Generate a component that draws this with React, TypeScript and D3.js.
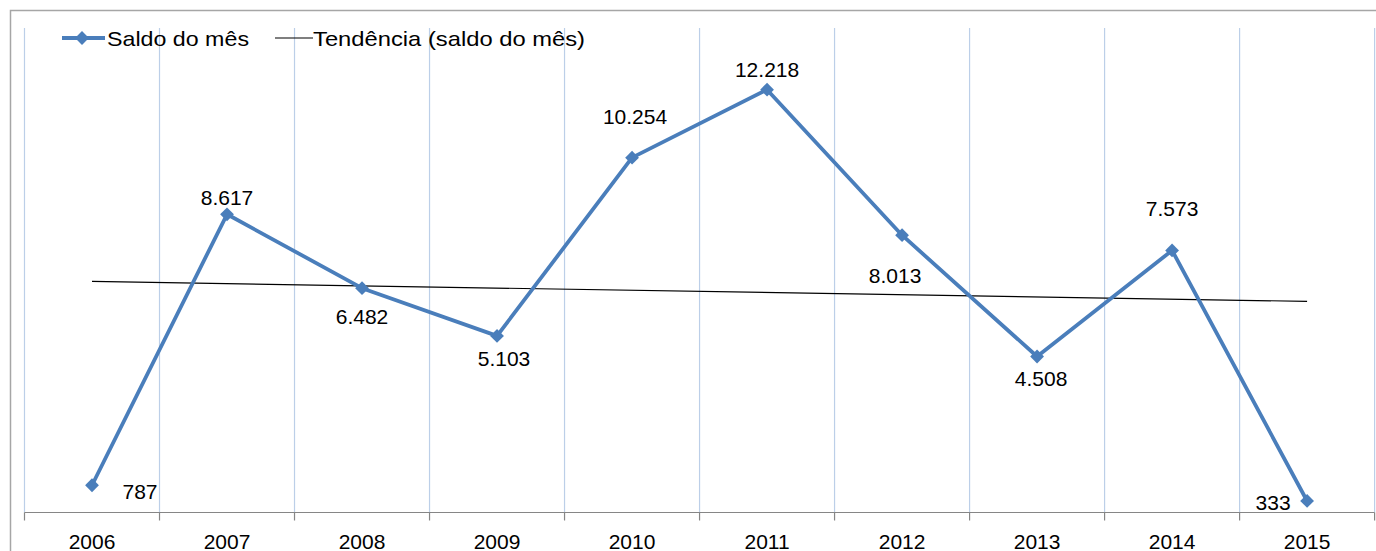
import { useEffect, useRef } from "react";
import * as d3 from "d3";

const years = ["2006", "2007", "2008", "2009", "2010", "2011", "2012", "2013", "2014", "2015"];
const saldo = [787, 8617, 6482, 5103, 10254, 12218, 8013, 4508, 7573, 333];
const legendLabels = ["Saldo do mês", "Tendência (saldo do mês)"];

// label offsets (px) from each point: [dx, dy of baseline]
const labelOffsets = [
  [48, 14], [0, -9], [0, 36], [7, 30], [3, -34],
  [0, -13], [-7, 48], [4, 30], [0, -34], [-34, 9],
];

const fmt = (v: number) => d3.format(",")(v).replace(/,/g, ".");

export default function App() {
  const ref = useRef<SVGSVGElement>(null);

  useEffect(() => {
    const width = 1376;
    const height = 551;
    const marginLeft = 24.5;
    const marginRight = 1.4;
    const marginTop = 28;
    const plotBottom = 512.5;

    const svg = d3.select(ref.current);
    svg.selectAll("*").remove();
    svg.attr("width", width).attr("height", height);

    const font = "'Liberation Sans', Arial, sans-serif";

    // outer chart border
    svg
      .append("path")
      .attr("d", `M10.5,${height + 5}V10.5H${width + 5}`)
      .attr("fill", "none")
      .attr("stroke", "#a6a6a6")
      .attr("stroke-width", 1.5);

    const x = d3
      .scaleBand()
      .domain(years)
      .range([marginLeft, width - marginRight]);

    const y = d3.scaleLinear().domain([0, 14000]).range([plotBottom, marginTop]);

    // vertical gridlines at category boundaries
    const bounds = d3.range(years.length + 1).map((i) => marginLeft + i * x.step());
    svg
      .append("g")
      .selectAll("line")
      .data(bounds)
      .join("line")
      .attr("x1", (d) => d)
      .attr("x2", (d) => d)
      .attr("y1", marginTop)
      .attr("y2", plotBottom)
      .attr("stroke", "#bccfe8")
      .attr("stroke-width", 1.2);

    // horizontal axis
    const axis = svg.append("g");
    axis
      .append("line")
      .attr("x1", marginLeft)
      .attr("x2", width - marginRight)
      .attr("y1", plotBottom)
      .attr("y2", plotBottom)
      .attr("stroke", "#868686")
      .attr("stroke-width", 1.2);
    axis
      .selectAll(".tk")
      .data(bounds)
      .join("line")
      .attr("x1", (d) => d)
      .attr("x2", (d) => d)
      .attr("y1", plotBottom)
      .attr("y2", plotBottom + 8)
      .attr("stroke", "#868686")
      .attr("stroke-width", 1.2);
    axis
      .selectAll("text")
      .data(years)
      .join("text")
      .attr("x", (d) => (x(d) ?? 0) + x.bandwidth() / 2)
      .attr("y", 549)
      .attr("text-anchor", "middle")
      .attr("font-family", font)
      .attr("font-size", 21)
      .attr("fill", "#000")
      .text((d) => d);

    // trend line (least squares)
    const xs = d3.range(1, years.length + 1);
    const mx = d3.mean(xs) as number;
    const my = d3.mean(saldo) as number;
    const slope =
      d3.sum(xs, (xi, i) => (xi - mx) * (saldo[i] - my)) / d3.sum(xs, (xi) => (xi - mx) ** 2);
    const intercept = my - slope * mx;
    const cx = (i: number) => (x(years[i]) ?? 0) + x.bandwidth() / 2;
    svg
      .append("line")
      .attr("x1", cx(0))
      .attr("x2", cx(years.length - 1))
      .attr("y1", y(intercept + slope * 1))
      .attr("y2", y(intercept + slope * years.length))
      .attr("stroke", "#000")
      .attr("stroke-width", 1.2);

    // main line
    const line = d3
      .line<number>()
      .x((_, i) => cx(i))
      .y((d) => y(d));
    svg
      .append("path")
      .attr("d", line(saldo))
      .attr("fill", "none")
      .attr("stroke", "#4a7ebb")
      .attr("stroke-width", 3.8)
      .attr("stroke-linejoin", "round");

    const diamond = d3.symbol(d3.symbolSquare, 95);
    svg
      .append("g")
      .selectAll("path")
      .data(saldo)
      .join("path")
      .attr("d", diamond())
      .attr("transform", (d, i) => `translate(${cx(i)},${y(d)}) rotate(45)`)
      .attr("fill", "#4a7ebb");

    // data labels
    svg
      .append("g")
      .selectAll("text")
      .data(saldo)
      .join("text")
      .attr("x", (d, i) => cx(i) + labelOffsets[i][0])
      .attr("y", (d, i) => y(d) + labelOffsets[i][1])
      .attr("text-anchor", "middle")
      .attr("font-family", font)
      .attr("font-size", 21)
      .attr("fill", "#000")
      .text((d) => fmt(d));

    // legend
    const lg = svg.append("g").attr("font-family", font).attr("font-size", 21);
    lg.append("line")
      .attr("x1", 62)
      .attr("x2", 105)
      .attr("y1", 38)
      .attr("y2", 38)
      .attr("stroke", "#4a7ebb")
      .attr("stroke-width", 3.8);
    lg.append("path")
      .attr("d", diamond())
      .attr("transform", "translate(82,38) rotate(45)")
      .attr("fill", "#4a7ebb");
    lg.append("text")
      .attr("x", 107)
      .attr("y", 46)
      .attr("textLength", 142)
      .attr("lengthAdjust", "spacingAndGlyphs")
      .text(legendLabels[0]);
    lg.append("line")
      .attr("x1", 275)
      .attr("x2", 313)
      .attr("y1", 38)
      .attr("y2", 38)
      .attr("stroke", "#000")
      .attr("stroke-width", 1.2);
    lg.append("text")
      .attr("x", 313)
      .attr("y", 46)
      .attr("textLength", 272)
      .attr("lengthAdjust", "spacingAndGlyphs")
      .text(legendLabels[1]);
  }, []);

  return (
    <svg
      ref={ref}
      style={{ position: "absolute", left: 0, top: 0, background: "#fff" }}
    />
  );
}
